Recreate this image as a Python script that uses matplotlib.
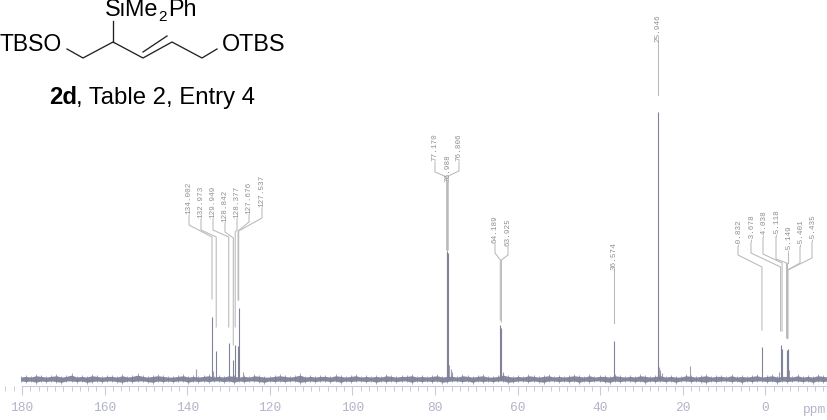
import numpy as np
from matplotlib import pyplot as plt
from matplotlib.ticker import MultipleLocator

# peaks: ppm, height above baseline (baseline sits at y=379 in the image, 1 unit = 1 px)
peak_ppm = [134.002, 132.973, 129.949, 128.842, 128.377, 127.676, 127.537,
            77.170, 76.988, 76.806, 64.189, 63.925, 36.574, 25.946,
            0.832, -3.678, -4.038, -5.118, -5.149, -5.401, -5.435]
peak_height = [62, 28, 36, 19, 34, 33, 71,
               126, 128, 126, 54, 51, 38, 267,
               32, 34, 30, 29, 28, 30, 29]
peak_names = ["134.002", "132.973", "129.949", "128.842", "128.377", "127.676", "127.537",
              "77.170", "76.988", "76.806", "64.189", "63.925", "36.574", "25.946",
              "-0.832", "-3.678", "-4.038", "-5.118", "-5.149", "-5.401", "-5.435"]

# small unlabelled peaks and the feet of the big ones
small_ppm = [137.9, 18.3, 126.4, 76.5, 76.2, 75.9, 25.7, 25.4, 25.1, 133.8, 63.5, -5.7, -3.3]
small_height = [10, 13, 7, 14, 10, 7, 12, 9, 6, 8, 7, 9, 7]

# hand read noise envelope, left to right
noise_top = [3, 4, 3, 5, 4, 3, 4, 5, 3, 4, 6, 3, 4, 3, 5, 4, 3, 4, 4, 3,
             5, 3, 4, 6, 4, 3, 4, 5, 4, 3, 3, 4, 5, 3, 4, 3, 4, 5, 3, 4,
             3, 5, 4, 3, 4, 3, 5, 4, 3, 3, 4, 5, 4, 3, 4, 6, 3, 4, 3, 4,
             4, 3, 5, 4, 3, 4, 5, 3, 4, 3, 4, 3, 5, 4, 3, 4, 4, 5, 3, 4,
             3, 4, 5, 3, 4, 4, 3, 5, 4, 3, 4, 5, 3, 3, 4, 6, 4, 3, 4, 3,
             5, 4, 3, 4, 5, 3, 4, 3, 4, 5, 4, 3, 5, 3, 4, 4, 3, 5, 4, 3,
             4, 3, 5, 4, 3, 4, 5, 3, 4, 3, 3, 5, 4, 3, 4, 5, 3, 4, 4, 3,
             5, 3, 4, 3, 4, 5, 3, 4, 5, 3, 4, 4, 3, 5, 3, 4, 3, 5, 4, 3]
noise_bot = [-3, -4, -3, -5, -3, -4, -3, -4, -5, -3, -3, -4, -3, -5, -4, -3, -4, -3, -3, -4,
             -5, -3, -4, -3, -3, -4, -5, -3, -4, -3, -4, -3, -3, -5, -3, -4, -3, -4, -3, -3,
             -4, -3, -5, -3, -4, -3, -3, -4, -5, -3, -4, -3, -4, -3, -3, -5, -4, -3, -4, -3,
             -3, -4, -3, -5, -3, -4, -3, -3, -4, -3, -5, -3, -4, -3, -4, -3, -3, -5, -3, -4,
             -3, -4, -3, -5, -4, -3, -3, -4, -3, -5, -3, -4, -3, -4, -3, -3, -5, -4, -3, -3,
             -4, -3, -4, -5, -3, -3, -4, -3, -4, -3, -5, -3, -4, -3, -3, -4, -5, -3, -4, -3,
             -3, -4, -3, -5, -3, -4, -3, -4, -3, -5, -3, -3, -4, -3, -4, -5, -3, -4, -3, -3,
             -4, -3, -5, -3, -4, -3, -3, -4, -3, -5, -3, -4, -3, -3, -4, -3, -5, -3, -4, -3]

major_ticks = [180, 160, 140, 120, 100, 80, 60, 40, 20, 0]
tick_names = ["180", "160", "140", "120", "100", "80", "60", "40", "20", "0"]
mid_ticks = [170, 150, 130, 110, 90, 70, 50, 30, 10, -10]

# leader layout in image pixels: label x, label bottom y, elbow y, join y, bottom end y
label_x = [189, 201, 213, 225, 237, 249, 262, 435, 447.5, 459, 495, 508, 614.3, 658.2,
           738, 751, 763, 776, 788, 800, 812]
label_bottom = [214, 218, 218, 222, 218, 214, 207, 161, 182, 161, 243, 246, 270, 42,
                246, 241, 237, 236, 252, 246, 241]
elbow_y = [225, 230, 230, 232, 230, 222, 218, 172, 182, 171, 253, 255, 270, 42,
           255, 253, 254, 259, 263, 263, 258]
join_y = [237, 237, 237, 238, 232, 231, 231, 177, 182, 176, 260, 260, 270, 42,
          267, 267, 263, 263, 263, 270, 270]
end_y = [299, 327, 327, 345, 327, 300, 300, 250, 250, 250, 320, 322, 323, 95,
         330, 331, 331, 338, 338, 338, 338]

spec_color = "#7f8299"
axis_color = "#c9cbdb"
font_mono = "Liberation Mono"
font_sans = "Liberation Sans"

fig = plt.figure(figsize=(8.28, 4.2), dpi=100)
W, H = 828, 420
px_per_ppm = 4.13
left_ppm = 180 + 22 / px_per_ppm
right_ppm = 180 - (W - 22) / px_per_ppm


def ppm_x(d):
    return 22 + (180 - d) * px_per_ppm


# spectrum axes fill the figure, y in px above baseline
ax = fig.add_axes([0, 0, 1, 1])
ax.set_xlim(left_ppm, right_ppm)
ax.set_ylim(379 - H, 379)
ax.patch.set_visible(False)
for s in ["top", "left", "right"]:
    ax.spines[s].set_visible(False)
ax.spines["bottom"].set_position(("data", -7))
ax.spines["bottom"].set_bounds(180, right_ppm)
ax.spines["bottom"].set_color(axis_color)
ax.spines["bottom"].set_linewidth(0.8)
ax.set_yticks([])
ax.set_xticks(major_ticks)
ax.set_xticklabels(tick_names, family=font_mono, fontsize=9.3, color="#b3b5c8")
ax.xaxis.set_minor_locator(MultipleLocator(2))
ax.tick_params(axis="x", which="major", length=6.5, width=0.8, color=axis_color, pad=5)
ax.tick_params(axis="x", which="minor", length=3.5, width=0.7, color=axis_color)
ax.vlines(mid_ticks, -12, -7, color=axis_color, lw=0.7, clip_on=False)

# baseline noise: solid core plus thin spikes out to the read envelopes
noise_x = np.linspace(180.3, right_ppm, len(noise_top))
ax.fill_between(noise_x, np.array(noise_bot) * 0.65, np.array(noise_top) * 0.65,
                color=spec_color, lw=0, alpha=0.95)
ax.vlines(noise_x, noise_bot, noise_top, color=spec_color, lw=0.6, alpha=0.8)
ax.vlines(small_ppm, 0, small_height, color=spec_color, lw=0.8, alpha=0.75)
ax.vlines(peak_ppm, 0, peak_height, color=spec_color, lw=0.8)
ax.text(right_ppm + 3.2, -31.5, "ppm", family=font_mono, fontsize=9.3, color="#b3b5c8",
        ha="center", va="center")

# overlay in image pixels for leaders, labels and the structure
ov = fig.add_axes([0, 0, 1, 1])
ov.set_xlim(0, W)
ov.set_ylim(H, 0)
ov.axis("off")

for i, d in enumerate(peak_ppm):
    x0 = ppm_x(d)
    ov.plot([label_x[i], label_x[i], x0, x0], [label_bottom[i] + 1, elbow_y[i], join_y[i], end_y[i]],
            color="#b9b9b9", lw=0.75)
    ov.text(label_x[i], label_bottom[i], peak_names[i], rotation=90, ha="center", va="bottom",
            family=font_mono, fontsize=5.5, color="#8f8f8f")

# molecule
zig_x = [67, 83, 113, 143, 172, 202, 217]
zig_y = [49, 58, 42, 58, 42, 58, 49]
ov.plot(zig_x, zig_y, color="#222222", lw=0.95)
ov.plot([113, 113], [42, 21], color="#222222", lw=0.95)
ov.plot([143, 167], [52, 36], color="#222222", lw=0.95)

big = 16.8
ov.text(-1, 51, "TBSO", family=font_sans, fontsize=16.5, color="k", ha="left", va="baseline")
ov.text(222, 51, "OTBS", family=font_sans, fontsize=big, color="k", ha="left", va="baseline")
ov.text(105, 16.5, "SiMe", family=font_sans, fontsize=big, color="k", ha="left", va="baseline")
ov.text(158, 21, "2", family=font_sans, fontsize=11, color="k", ha="left", va="baseline")
ov.text(168.5, 16.5, "Ph", family=font_sans, fontsize=big, color="k", ha="left", va="baseline")
ov.text(49, 104, "2d", family=font_sans, fontsize=17.2, weight="bold", color="k", ha="left", va="baseline")
ov.text(76, 104, ", Table 2, Entry 4", family=font_sans, fontsize=17.2, color="k", ha="left", va="baseline")

fig.savefig("out.png", dpi=100)
